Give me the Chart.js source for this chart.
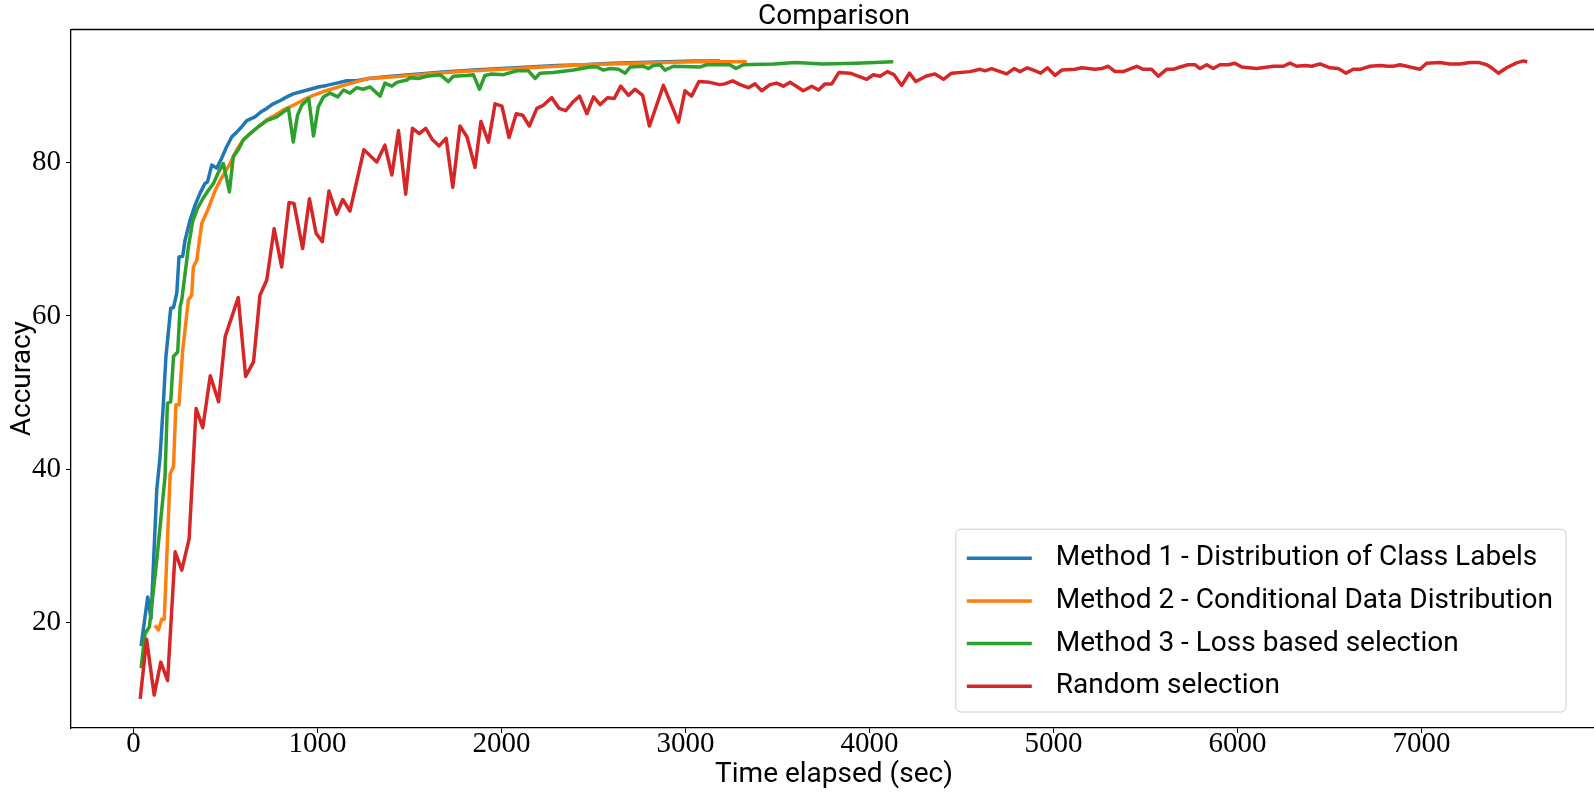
<!DOCTYPE html>
<html>
<head>
<meta charset="utf-8">
<script src="https://cdn.jsdelivr.net/npm/chart.js@4.4.1/dist/chart.umd.min.js"></script>
<style>
  html, body { margin: 0; padding: 0; background: #fff; overflow: hidden; }
  #wrap { position: relative; width: 1600px; height: 793px; }
</style>
</head>
<body>
<div id="wrap"><canvas id="chart"></canvas></div>
<script>
// Method 1 - Distribution of Class Labels
const m1X = [41, 77, 95, 126, 144, 162, 176, 202, 217, 235, 247, 267, 280, 307, 335, 361, 388, 402, 425, 452,
  479, 506, 534, 561, 588, 615, 660, 696, 724, 759, 796, 833, 868, 914, 960, 1004, 1050, 1104, 1159, 1213,
  1276, 1400, 1550, 1700, 1850, 2000, 2150, 2300, 2450, 2600, 2750, 2900, 3050, 3188];
const m1Y = [16.9, 23.3, 20.5, 37.3, 41.6, 48.6, 54.7, 61.0, 61.1, 63.0, 67.7, 67.8, 69.9, 72.5, 74.5, 76.0, 77.3, 77.5, 79.7, 79.3,
  80.6, 82.1, 83.4, 84.0, 84.7, 85.5, 86.0, 86.7, 87.1, 87.7, 88.1, 88.6, 89.0, 89.3, 89.6, 89.9, 90.1, 90.4, 90.7, 90.7,
  91.0, 91.3, 91.6, 91.9, 92.1, 92.3, 92.5, 92.7, 92.8, 93.0, 93.1, 93.2, 93.3, 93.3];

// Method 2 - Conditional Data Distribution
const m2X = [117, 135, 153, 167, 199, 217, 230, 247, 267, 298, 316, 325, 344, 358, 371, 399, 417, 444, 471, 498,
  525, 561, 597, 633, 678, 724, 769, 814, 868, 923, 977, 1032, 1087, 1141, 1213, 1276, 1400, 1550, 1700, 1850,
  2000, 2150, 2300, 2450, 2600, 2750, 2900, 3050, 3200, 3333];
const m2Y = [19.6, 19.0, 20.4, 20.4, 39.4, 40.3, 48.4, 48.4, 55.5, 62.1, 62.7, 66.4, 67.3, 69.9, 72.1, 73.6, 74.7, 76.4, 77.7, 78.8,
  79.9, 81.7, 83.0, 83.8, 84.7, 85.6, 86.2, 86.9, 87.5, 88.2, 88.8, 89.3, 89.7, 90.1, 90.6, 91.0, 91.2, 91.5, 91.8, 92.0,
  92.2, 92.4, 92.6, 92.8, 92.9, 93.0, 93.1, 93.2, 93.2, 93.2];

// Method 3 - Loss based selection
const m3X = [41, 62, 86, 126, 171, 184, 202, 217, 240, 253, 262, 280, 298, 321, 347, 376, 407, 434, 462, 488,
  521, 542, 569, 597, 633, 678, 724, 778, 842, 868, 891, 914, 952, 978, 1004, 1032, 1068, 1110, 1141, 1176,
  1213, 1248, 1286, 1340, 1366, 1404, 1431, 1485, 1504, 1548, 1594, 1666, 1711, 1738, 1812, 1847, 1880, 1910, 1947, 2011,
  2038, 2083, 2146, 2183, 2209, 2281, 2391, 2481, 2518, 2554, 2590, 2636, 2672, 2699, 2771, 2799, 2825, 2862, 2888, 2934,
  3078, 3114, 3241, 3274, 3314, 3478, 3600, 3744, 3925, 4129];
const m3Y = [14, 18.5, 19.4, 28.1, 39, 48.6, 48.8, 54.7, 55.3, 61.2, 62.1, 65.5, 69, 72.3, 74, 75.3, 76.4, 77.3, 78.8, 79.9,
  76.2, 80.8, 81.7, 83, 83.8, 84.7, 85.5, 86, 87.1, 82.7, 86.2, 87.5, 88.4, 83.5, 87.3, 88.6, 89.1, 88.6, 89.5, 89.1,
  89.8, 89.6, 89.9, 88.7, 90.4, 90, 90.5, 90.8, 91.1, 91, 91.3, 91.5, 90.6, 91.3, 91.4, 91.5, 89.6, 91.4, 91.6, 91.5,
  91.7, 92, 92, 91, 91.7, 91.8, 92.1, 92.5, 92.5, 92.1, 92.3, 92.2, 91.7, 92.5, 92.6, 92.3, 92.7, 92.8, 92.1, 92.6,
  92.5, 92.8, 92.8, 92.3, 92.8, 92.9, 93.1, 92.9, 93, 93.2];

// Random selection
const rndX = [36, 71, 112, 148, 185, 226, 262, 302, 340, 376, 417, 462, 498, 569, 609, 652, 687, 724, 764, 805,
  845, 872, 919, 956, 992, 1026, 1062, 1104, 1137, 1176, 1252, 1322, 1366, 1404, 1440, 1479, 1516, 1553, 1588, 1625,
  1661, 1699, 1735, 1774, 1812, 1856, 1888, 1929, 1965, 2002, 2041, 2080, 2115, 2151, 2192, 2227, 2273, 2313, 2349, 2391,
  2424, 2464, 2500, 2536, 2576, 2613, 2648, 2690, 2725, 2767, 2804, 2880, 2962, 2997, 3033, 3073, 3131, 3186, 3213, 3256,
  3297, 3341, 3378, 3414, 3459, 3495, 3532, 3568, 3640, 3686, 3723, 3758, 3795, 3834, 3895, 3985, 4021, 4057, 4097, 4133,
  4175, 4217, 4252, 4306, 4356, 4402, 4446, 4546, 4601, 4628, 4664, 4745, 4786, 4818, 4858, 4891, 4930, 4967, 5009, 5045,
  5117, 5153, 5225, 5262, 5298, 5335, 5379, 5452, 5488, 5533, 5570, 5614, 5651, 5688, 5732, 5769, 5796, 5833, 5868, 5905,
  5950, 5986, 6023, 6104, 6195, 6249, 6285, 6322, 6367, 6403, 6448, 6503, 6548, 6590, 6629, 6666, 6720, 6774, 6820, 6847,
  6883, 6920, 6955, 6992, 7028, 7101, 7154, 7209, 7263, 7309, 7355, 7381, 7418, 7463, 7517, 7553, 7575];
const rndY = [10, 17.8, 10.5, 14.8, 12.4, 29.2, 26.8, 30.9, 47.9, 45.4, 52.2, 48.8, 57.3, 62.4, 52.1, 54, 62.7, 64.7, 71.4, 66.4,
  74.8, 74.7, 68.8, 75.3, 70.8, 69.7, 76.3, 73.3, 75.2, 73.7, 81.7, 80.1, 82.3, 78.4, 84.2, 75.9, 84.5, 83.8, 84.5, 83,
  82.2, 83.2, 76.8, 84.8, 83.4, 79.4, 85.4, 82.7, 87.7, 87.4, 83.3, 86.4, 86.2, 84.8, 87.1, 87.5, 88.5, 87.1, 86.8, 88,
  88.7, 86.4, 88.6, 87.6, 88.5, 88.4, 90, 88.8, 89.6, 88.8, 84.8, 90.1, 85.3, 89.4, 88.7, 90.6, 90.5, 90.2, 90.3, 90.7,
  90.2, 89.8, 90.3, 89.4, 90.2, 90.4, 90, 90.5, 89.4, 90, 89.5, 90.3, 90.3, 91.8, 91.7, 90.9, 91.5, 91.3, 91.9, 91.5,
  90.1, 91.7, 90.6, 91.3, 91.6, 90.9, 91.7, 91.9, 92.2, 92, 92.3, 91.6, 92.3, 91.9, 92.4, 92.1, 91.7, 92.4, 91.4, 92.1,
  92.2, 92.4, 92.2, 92.3, 92.6, 91.9, 91.9, 92.6, 92.2, 92.2, 91.3, 92.2, 92.2, 92.5, 92.8, 92.8, 92.3, 92.8, 92.3, 92.8,
  92.8, 93, 92.5, 92.3, 92.6, 92.6, 93, 92.6, 92.7, 92.6, 92.9, 92.4, 92.3, 91.7, 92.2, 92.2, 92.6, 92.7, 92.6, 92.6,
  92.8, 92.6, 92.4, 92.2, 93, 93.1, 92.9, 92.9, 93.1, 93.1, 92.8, 92.4, 91.7, 92.4, 93.05, 93.3, 93.2];

const seriesNames = [
  "Method 1 - Distribution of Class Labels",
  "Method 2 - Conditional Data Distribution",
  "Method 3 - Loss based selection",
  "Random selection"
];
const colors = ["#1f77b4", "#ff7f0e", "#2ca02c", "#d62728"];
const xTicks = [0, 1000, 2000, 3000, 4000, 5000, 6000, 7000];
const yTicks = [20, 40, 60, 80];
const titleText = "Comparison";

const SANS = "Roboto, 'DejaVu Sans', sans-serif";
const SERIF = "'Liberation Serif', serif";

function pts(xs, ys) {
  return xs.map((x, i) => ({ x: x, y: ys[i] }));
}

const allX = [m1X, m2X, m3X, rndX];
const allY = [m1Y, m2Y, m3Y, rndY];

const datasets = seriesNames.map((name, i) => ({
  label: name,
  data: pts(allX[i], allY[i]),
  borderColor: colors[i],
  backgroundColor: colors[i],
  borderWidth: 3.5,
  pointRadius: 0,
  tension: 0,
  fill: false,
  borderJoinStyle: "round",
  order: seriesNames.length - 1 - i
}));

// top + right spine, and the title centred over the axes
const frame = {
  id: "frame",
  afterDraw(chart) {
    const { ctx, chartArea: a } = chart;
    ctx.save();
    ctx.strokeStyle = "#000";
    ctx.lineWidth = 1.3;
    ctx.beginPath();
    ctx.moveTo(a.left, a.top);
    ctx.lineTo(a.right, a.top);
    ctx.lineTo(a.right, a.bottom);
    ctx.stroke();
    ctx.fillStyle = "#000";
    ctx.font = "28px " + SANS;
    ctx.textAlign = "center";
    ctx.textBaseline = "middle";
    ctx.fillText(titleText, (a.left + a.right) / 2, a.top - 13);
    ctx.restore();
  }
};

// matplotlib-style legend box in the lower right corner
const boxLegend = {
  id: "boxLegend",
  afterDraw(chart) {
    const { ctx, chartArea: a } = chart;
    const sets = chart.data.datasets;
    const fs = 28, rowH = 42.7;
    ctx.save();
    ctx.font = fs + "px " + SANS;
    const textW = Math.max(...sets.map(d => ctx.measureText(d.label).width));
    const padL = 11, handle = 65, gap = 24, padR = 13;
    const w = padL + handle + gap + textW + padR;
    const h = rowH * sets.length + 12;
    const right = a.right - 31, bottom = a.bottom - 16;
    const left = right - w, top = bottom - h;
    ctx.beginPath();
    ctx.roundRect(left, top, w, h, 5);
    ctx.fillStyle = "rgba(255,255,255,0.8)";
    ctx.fill();
    ctx.strokeStyle = "#cccccc";
    ctx.lineWidth = 1;
    ctx.stroke();
    ctx.textBaseline = "middle";
    sets.forEach((d, i) => {
      const y = top + 29 + i * rowH;
      ctx.strokeStyle = d.borderColor;
      ctx.lineWidth = 3.5;
      ctx.beginPath();
      ctx.moveTo(left + padL, y);
      ctx.lineTo(left + padL + handle, y);
      ctx.stroke();
      ctx.fillStyle = "#000";
      ctx.fillText(d.label, left + padL + handle + gap, y);
    });
    ctx.restore();
  }
};

const ctx = document.getElementById("chart");
const chart = new Chart(ctx, {
  type: "line",
  data: { datasets: datasets },
  options: {
    responsive: true,
    maintainAspectRatio: false,
    animation: false,
    devicePixelRatio: 1,
    events: [],
    layout: { padding: { left: 0, right: 3, top: 29.5, bottom: 0 } },
    plugins: {
      legend: { display: false },
      tooltip: { enabled: false },
      title: { display: false }
    },
    scales: {
      x: {
        type: "linear",
        min: -340,
        max: 7954,
        afterFit: s => { s.height = 65; },
        afterBuildTicks: s => { s.ticks = xTicks.map(v => ({ value: v })); },
        grid: { drawOnChartArea: false, drawTicks: true, tickLength: 5, color: "#000" },
        border: { display: true, color: "#000", width: 1.3 },
        ticks: {
          color: "#000",
          padding: -3,
          maxRotation: 0,
          callback: v => String(v),
          font: { family: SERIF, size: 29, lineHeight: 1 }
        },
        title: {
          display: true,
          text: "Time elapsed (sec)",
          color: "#000",
          font: { family: SANS, size: 28, lineHeight: 1 },
          padding: { top: 0, bottom: 4 }
        }
      },
      y: {
        min: 6.2,
        max: 97.4,
        afterFit: s => { s.width = 71; },
        afterBuildTicks: s => { s.ticks = yTicks.map(v => ({ value: v })); },
        grid: { drawOnChartArea: false, drawTicks: true, tickLength: 5, color: "#000" },
        border: { display: true, color: "#000", width: 1.3 },
        ticks: {
          color: "#000",
          padding: 5,
          callback: v => String(v),
          font: { family: SERIF, size: 29, lineHeight: 1 }
        },
        title: {
          display: true,
          text: "Accuracy",
          color: "#000",
          font: { family: SANS, size: 28, lineHeight: 1 },
          padding: { top: 9, bottom: 0 }
        }
      }
    }
  },
  plugins: [frame, boxLegend]
});
</script>
</body>
</html>
